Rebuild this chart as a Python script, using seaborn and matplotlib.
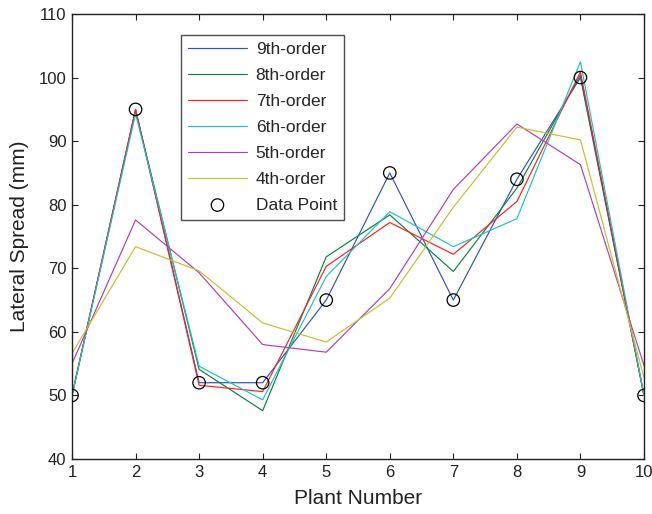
import numpy as np
import pandas as pd
import matplotlib
matplotlib.use("Agg")
import matplotlib.pyplot as plt
import seaborn as sns

plants = [1, 2, 3, 4, 5, 6, 7, 8, 9, 10]
data_points = [50, 95, 52, 52, 65, 85, 65, 84, 100, 50]
order9 = [50.0, 95.0, 52.0, 52.0, 65.0, 85.0, 65.0, 84.0, 100.0, 50.0]
order8 = [50.0, 94.8, 54.1, 47.6, 71.8, 78.4, 69.5, 82.6, 100.4, 50.0]
order7 = [50.0, 95.0, 51.6, 50.6, 70.3, 77.2, 72.2, 80.5, 100.9, 50.0]
order6 = [50.0, 94.3, 54.6, 49.3, 68.7, 78.9, 73.4, 77.8, 102.5, 50.0]
order5 = [55.0, 77.6, 69.3, 58.0, 56.8, 66.8, 82.4, 92.7, 86.3, 54.7]
order4 = [56.6, 73.4, 69.6, 61.4, 58.4, 65.3, 79.6, 92.2, 90.2, 52.8]

series_names = ["9th-order", "8th-order", "7th-order", "6th-order", "5th-order", "4th-order"]
series_values = [order9, order8, order7, order6, order5, order4]
colors = ["#3050c8", "#0e8040", "#ff2020", "#1fc3c3", "#b23fb2", "#c4c030"]

sns.set_style("white")
plt.rcParams["font.family"] = ["Liberation Sans", "DejaVu Sans"]

fig = plt.figure(figsize=(6.52, 5.14), dpi=100)
ax = fig.add_axes([72 / 652, 55 / 514, 572 / 652, 445 / 514])

for name, vals, col in zip(series_names, series_values, colors):
    df = pd.DataFrame({"Plant": plants, "Spread": vals})
    sns.lineplot(data=df, x="Plant", y="Spread", ax=ax, color=col, lw=0.85, label=name)

dp = pd.DataFrame({"Plant": plants, "Spread": data_points})
sns.scatterplot(data=dp, x="Plant", y="Spread", ax=ax, marker="o", s=80,
                facecolors="none", edgecolor="black", linewidth=0.9,
                label="Data Point", zorder=5)

ax.set_xlim(1, 10)
ax.set_ylim(40, 110)
ax.set_xticks(plants)
ax.set_yticks(np.arange(40, 111, 10))
ax.tick_params(axis="both", which="both", direction="in", length=4, width=0.8,
               top=True, right=True, bottom=True, left=True,
               labelsize=12, colors="#222222")
ax.tick_params(axis="x", pad=4)
ax.tick_params(axis="y", pad=4)
for sp in ax.spines.values():
    sp.set_visible(True)
    sp.set_color("#222222")
    sp.set_linewidth(1.0)

ax.set_xlabel("Plant Number", fontsize=15, color="#222222", labelpad=7)
ax.set_ylabel("Lateral Spread (mm)", fontsize=15, color="#222222", labelpad=7)

leg = ax.legend(loc="upper left", bbox_to_anchor=(109 / 572, 424 / 445),
                fontsize=12.5, frameon=True, fancybox=False, edgecolor="#222222",
                handlelength=3.4, labelspacing=0.62, borderpad=0.4,
                handletextpad=0.5, borderaxespad=0)
leg.get_frame().set_linewidth(1.0)

fig.savefig("out.png", dpi=100)
